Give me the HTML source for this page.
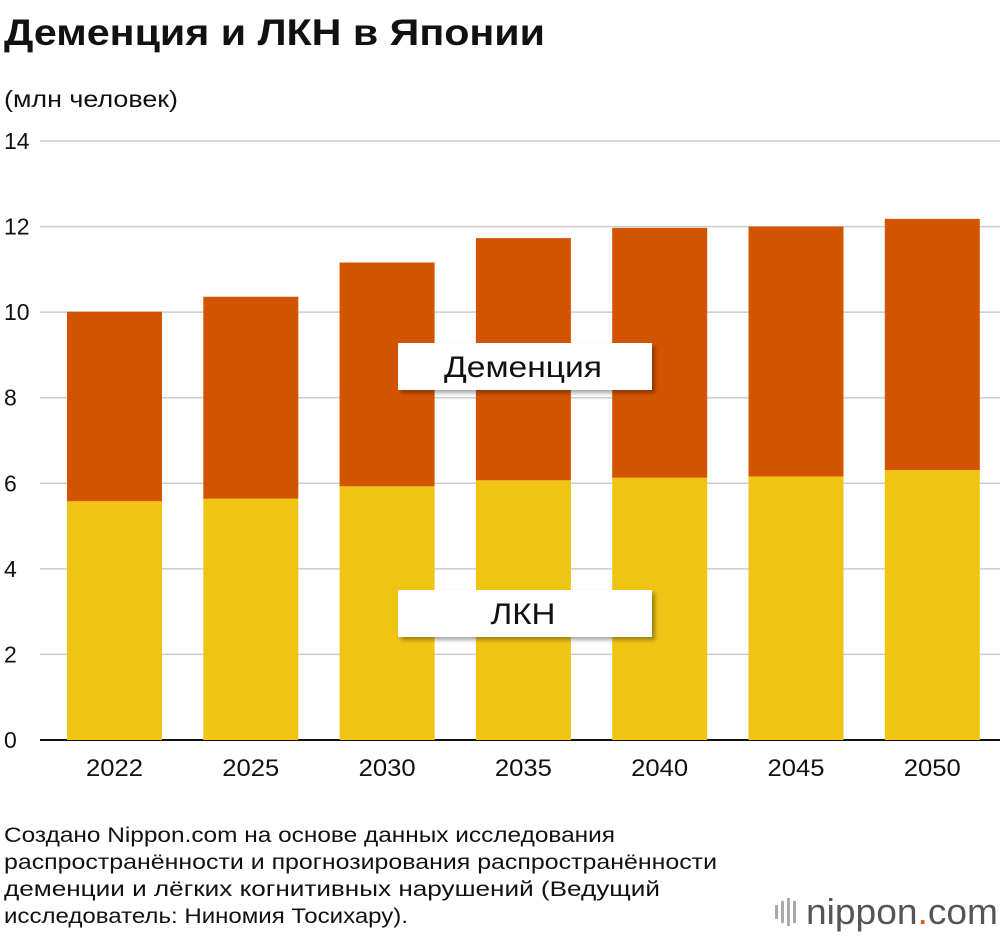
<!DOCTYPE html>
<html><head><meta charset="utf-8"><style>
body{margin:0;background:#fff;font-family:"Liberation Sans","DejaVu Sans",sans-serif;}
#wrap{position:relative;width:1000px;height:936px;overflow:hidden;}
</style></head><body>
<div id="wrap">
<svg id="chart" width="1000" height="936" xmlns="http://www.w3.org/2000/svg">
<defs><filter id="sh" x="-10%" y="-20%" width="130%" height="160%"><feDropShadow dx="3" dy="3" stdDeviation="2" flood-color="#000" flood-opacity="0.35"/></filter></defs>
<text x="4" y="45" font-size="37" font-weight="bold" fill="#111" textLength="541" lengthAdjust="spacingAndGlyphs">Деменция и ЛКН в Японии</text>
<text x="4" y="107" font-size="23" fill="#111" textLength="174" lengthAdjust="spacingAndGlyphs">(млн человек)</text>
<g id="grid"></g><g id="bars"></g><g id="labels"></g>
<g font-size="21" fill="#111">
<text x="4" y="842" textLength="611" lengthAdjust="spacingAndGlyphs">Создано Nippon.com на основе данных исследования</text>
<text x="4" y="869" textLength="713" lengthAdjust="spacingAndGlyphs">распространённости и прогнозирования распространённости</text>
<text x="4" y="896" textLength="656" lengthAdjust="spacingAndGlyphs">деменции и лёгких когнитивных нарушений (Ведущий</text>
<text x="4" y="923" textLength="404" lengthAdjust="spacingAndGlyphs">исследователь: Ниномия Тосихару).</text>
</g>
<g>
<rect x="775" y="905" width="3" height="14" fill="#aaa"/><rect x="781" y="901" width="3" height="22" fill="#aaa"/><rect x="787" y="898" width="3" height="28" fill="#aaa"/><rect x="793" y="901" width="3" height="22" fill="#aaa"/>
<text x="806" y="924" font-size="36" fill="#555" textLength="192" lengthAdjust="spacingAndGlyphs">nippon<tspan fill="#d9531e">.</tspan>com</text></g>
</svg>
</div>
<script>
const categories=["2022","2025","2030","2035","2040","2045","2050"];
const lknValues=[5.58,5.64,5.93,6.07,6.13,6.16,6.31];
const dementiaValues=[4.43,4.72,5.23,5.66,5.84,5.84,5.87];
const yTicks=[0,2,4,6,8,10,12,14];
const NS="http://www.w3.org/2000/svg";
const y0=740,yTop=141,yMax=14;
function yScale(v){return y0-(v/yMax)*(y0-yTop);}
function xScale(i){return 67+i*136.3;}
const bw=95;
const grid=document.getElementById('grid'),bars=document.getElementById('bars'),lab=document.getElementById('labels');
function mk(tag,attrs,parent){const e=document.createElementNS(NS,tag);for(const k in attrs)e.setAttribute(k,attrs[k]);parent.appendChild(e);return e;}
yTicks.forEach(t=>{
  const y=yScale(t);
  const l=mk('line',{x1:40,x2:1000,y1:y,y2:y,stroke:t===0?'#111':'#ccc','stroke-width':t===0?2:1.5},grid);
  
  
  const tx=mk('text',{x:4,y:y+8,'font-size':23,fill:'#111'},grid);
  tx.textContent=t;
  
  
});
categories.forEach((c,i)=>{
  const x=xScale(i);
  const a=lknValues[i],b=dementiaValues[i];
  const r1=mk('rect',{x:x,width:bw,y:yScale(a),height:y0-yScale(a),fill:'#f0c413'},bars);
  
  
  const r2=mk('rect',{x:x,width:bw,y:yScale(a+b),height:yScale(a)-yScale(a+b),fill:'#d35400'},bars);
  
  
  const t=mk('text',{x:x+bw/2,y:776,'font-size':24,fill:'#111','text-anchor':'middle',textLength:57,lengthAdjust:'spacingAndGlyphs'},bars);
  t.textContent=c;
  
  
});
[["Деменция",343,"legend-dementia",158],["ЛКН",590,"legend-lkn",65]].forEach(([txt,y,n,w])=>{
  const g=mk('g',{},lab);
  
  
  mk('rect',{x:398,y:y,width:254,height:47,fill:'#fff',filter:'url(#sh)'},g);
  const t=mk('text',{x:523,y:y+34,'font-size':30,fill:'#111','text-anchor':'middle',textLength:w,lengthAdjust:'spacingAndGlyphs'},g);
  t.textContent=txt;
});
</script>
</body></html>
